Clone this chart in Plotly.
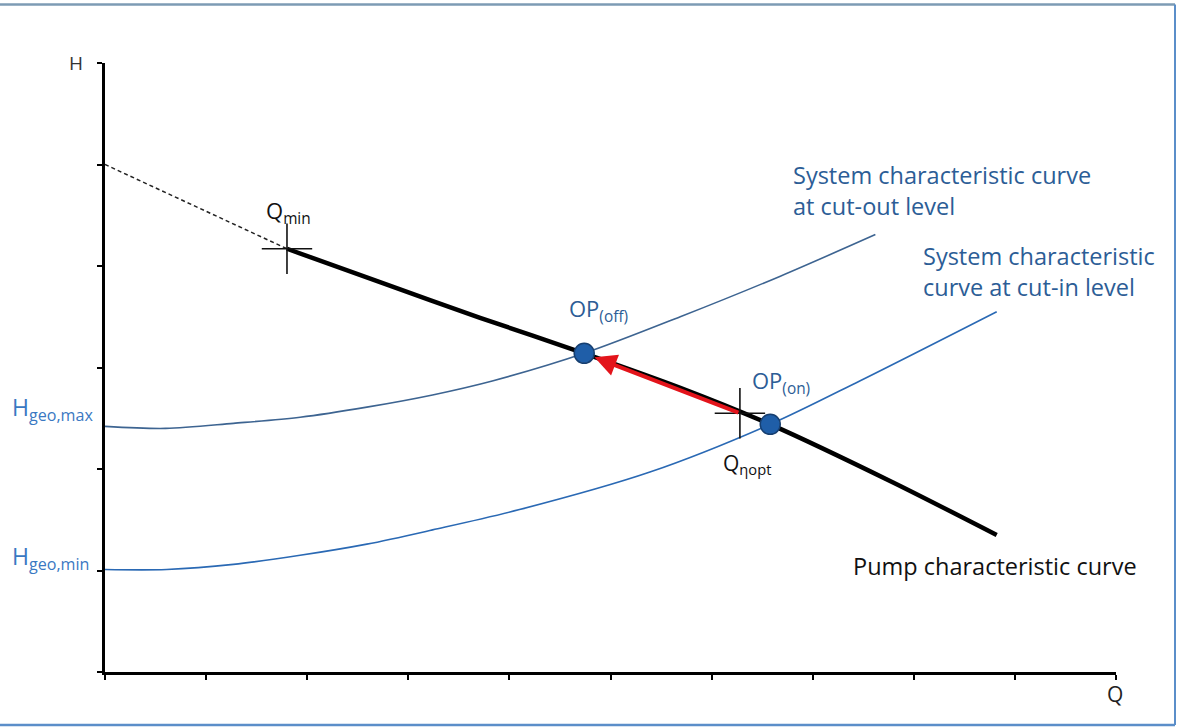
import plotly.graph_objects as go

# Flow Q and head H in axis units (Q: 0..10, H: 0..6)
pump_q = [1.80, 2.72, 3.71, 4.74, 5.69, 6.58, 7.79, 8.82]
pump_h = [4.17, 3.84, 3.49, 3.14, 2.80, 2.44, 1.87, 1.35]

pump_ext_q = [0.0, 1.80]
pump_ext_h = [5.00, 4.17]

cut_out_q = [0.0, 0.60, 1.27, 1.93, 2.59, 3.24, 3.84, 4.74, 5.69, 6.68, 7.62]
cut_out_h = [2.42, 2.40, 2.45, 2.51, 2.61, 2.73, 2.87, 3.14, 3.50, 3.90, 4.31]

cut_in_q = [0.0, 0.61, 1.27, 1.93, 2.59, 3.24, 4.10, 5.39, 6.58, 7.47, 8.82]
cut_in_h = [1.01, 1.01, 1.06, 1.15, 1.26, 1.40, 1.60, 1.97, 2.44, 2.87, 3.55]

q_min = (1.80, 4.17)
q_eta_opt = (6.28, 2.55)
op_off = (4.74, 3.14)
op_on = (6.58, 2.44)

x_ticks = list(range(0, 11))
y_ticks = list(range(0, 7))

W, H_PX = 1180, 727
ML, MR, MT, MB = 105, 64, 63, 55
PW, PH = W - ML - MR, H_PX - MT - MB


def paper(px, py):
    """Convert a pixel position on the page to paper coordinates."""
    return (px - ML) / PW, (H_PX - MB - py) / PH


FONT = "Open Sans"
BLUE_TXT = "#2c5d96"
LIGHT_BLUE_TXT = "#3a78c2"

fig = go.Figure()

fig.add_trace(go.Scatter(x=cut_out_q, y=cut_out_h, mode="lines", line=dict(color="#3d6491", width=1.6, shape="spline", smoothing=0.9)))
fig.add_trace(go.Scatter(x=cut_in_q, y=cut_in_h, mode="lines", line=dict(color="#2a69b4", width=1.6, shape="spline", smoothing=0.9)))
fig.add_trace(go.Scatter(x=pump_ext_q, y=pump_ext_h, mode="lines", line=dict(color="#222222", width=1.5, dash="4px,3px")))
fig.add_trace(go.Scatter(x=pump_q, y=pump_h, mode="lines", line=dict(color="black", width=4.5, shape="spline", smoothing=0.8)))

# Crosses marking Q_min and Q_eta,opt
fig.add_trace(go.Scatter(x=[q_min[0], q_eta_opt[0]], y=[q_min[1], q_eta_opt[1]], mode="markers",
                         marker=dict(symbol="cross-thin", size=36, line=dict(color="#111111", width=1.6)), cliponaxis=False))

# Operating points
fig.add_trace(go.Scatter(x=[op_off[0], op_on[0]], y=[op_off[1], op_on[1]], mode="markers",
                         marker=dict(symbol="circle", size=20, color="#1f5ea8", line=dict(color="#173f70", width=1.5))))

annotations = []

# Red arrow from the optimum point to OP(off)
annotations.append(dict(x=op_off[0], y=op_off[1], ax=q_eta_opt[0], ay=q_eta_opt[1], xref="x", yref="y", axref="x", ayref="y",
                        text="", showarrow=True, arrowhead=2, arrowsize=1.1, arrowwidth=4, arrowcolor="#e3141b", standoff=11))


def label(px, py, text, color, size, xanchor="left", yanchor="middle"):
    x, y = paper(px, py)
    annotations.append(dict(x=x, y=y, xref="paper", yref="paper", text=text, showarrow=False, xanchor=xanchor, yanchor=yanchor,
                            font=dict(family=FONT, size=size, color=color), align="left"))


label(76, 63, "H", "#333333", 19, xanchor="center")
label(1115, 694, "Q", "#222222", 21, xanchor="center")
label(10, 408, "H<sub>geo,max</sub>", LIGHT_BLUE_TXT, 23)
label(10, 557, "H<sub>geo,min</sub>", LIGHT_BLUE_TXT, 23)
label(264, 212, "Q<sub>min</sub>", "#111111", 22)
label(567, 310, "OP<sub>(off)</sub>", BLUE_TXT, 22)
label(750, 382, "OP<sub>(on)</sub>", BLUE_TXT, 22)
label(721, 464, "Q<sub>ηopt</sub>", "#111111", 21)
label(791, 190, "System characteristic curve<br>at cut-out level", BLUE_TXT, 23.5)
label(921, 271, "System characteristic<br>curve at cut-in level", BLUE_TXT, 23.5)
label(851, 566, "Pump characteristic curve", "#111111", 23.5)

# Frame around the figure
shapes = []
x0, y_top = paper(-2, 4.5)
x1, y_bot = paper(1175, 725)
shapes.append(dict(type="line", xref="paper", yref="paper", x0=x0, y0=y_top, x1=x1, y1=y_top, line=dict(color="#7d9bb4", width=2.5)))
shapes.append(dict(type="line", xref="paper", yref="paper", x0=x1, y0=y_top, x1=x1, y1=y_bot, line=dict(color="#5b8ec9", width=2)))
shapes.append(dict(type="line", xref="paper", yref="paper", x0=x0, y0=y_bot, x1=x1, y1=y_bot, line=dict(color="#5b8ec9", width=2.5)))

axis_common = dict(showgrid=False, zeroline=False, showline=True, linecolor="black", linewidth=2.5,
                   ticks="outside", ticklen=5, tickwidth=2, tickcolor="black", showticklabels=False, fixedrange=True)

fig.update_layout(
    width=W, height=H_PX,
    margin=dict(l=ML, r=MR, t=MT, b=MB, pad=0),
    paper_bgcolor="white", plot_bgcolor="white",
    showlegend=False,
    xaxis=dict(range=[0, 10], tickvals=x_ticks, **axis_common),
    yaxis=dict(range=[0, 6], tickvals=y_ticks, **axis_common),
    annotations=annotations,
    shapes=shapes,
)

fig.write_html("out.html")
